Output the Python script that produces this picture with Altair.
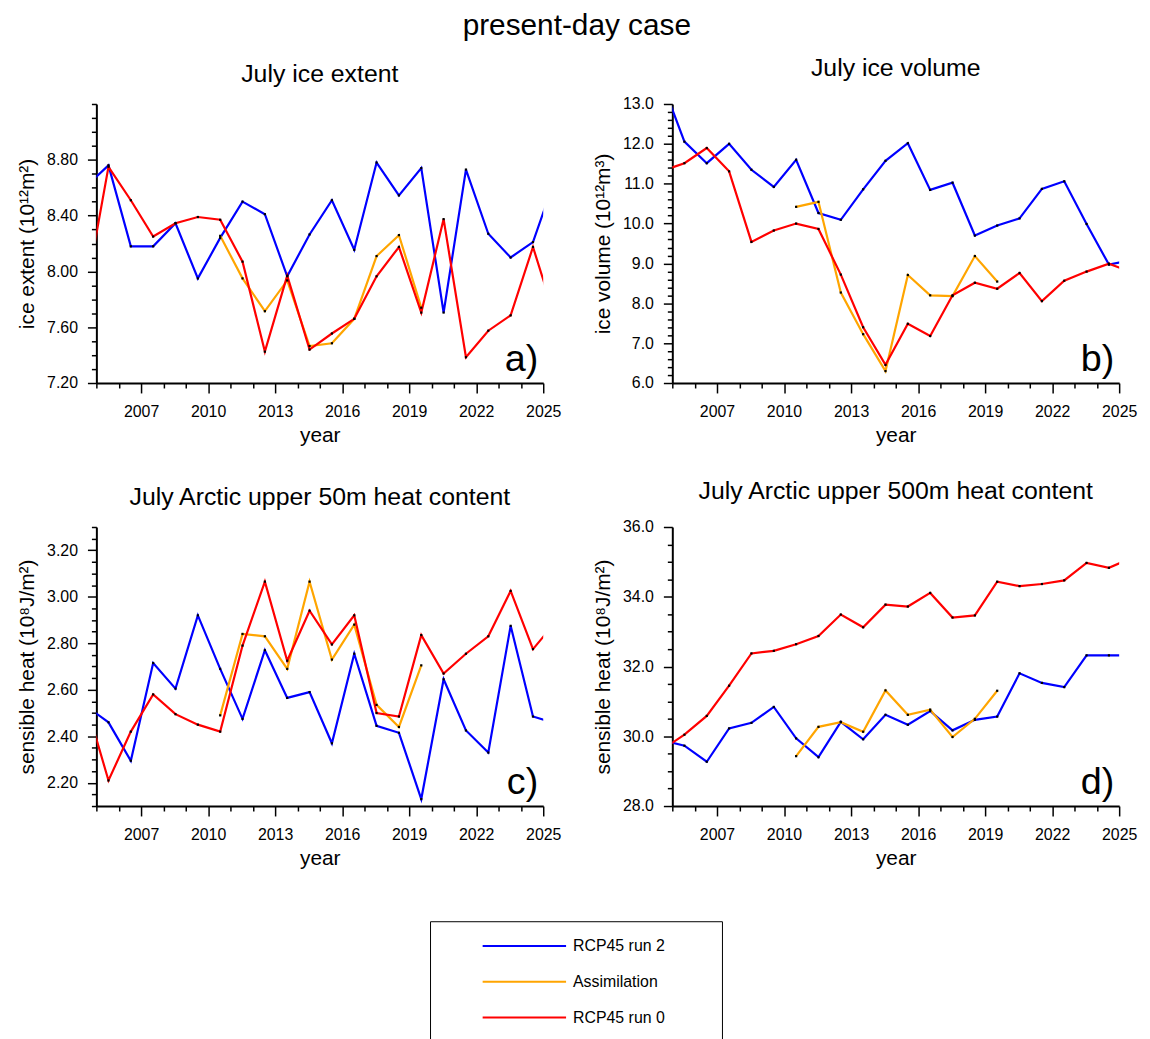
import altair as alt
import pandas as pd

# ---------------- data ----------------
years = list(range(2004, 2026))          # July values, plotted at mid-July
assim_years = list(range(2010, 2020))
series_names = ["RCP45 run 2", "Assimilation", "RCP45 run 0"]
series_colors = ["#0000ff", "#ffa500", "#ff0000"]

ext_run2 = [8.61, 8.76, 8.18, 8.18, 8.345, 7.95, 8.24, 8.50, 8.41, 7.965, 8.265,
            8.51, 8.155, 8.78, 8.545, 8.74, 7.705, 8.73, 8.27, 8.10, 8.21, 8.67]
ext_run0 = [7.86, 8.75, 8.51, 8.25, 8.345, 8.39, 8.37, 8.07, 7.425, 7.97, 7.44,
            7.555, 7.66, 7.965, 8.175, 7.705, 8.375, 7.385, 7.575, 7.685, 8.175, 7.665]
ext_assim = [8.255, 7.95, 7.715, 7.935, 7.465, 7.485, 7.66, 8.11, 8.26, 7.74]

vol_run2 = [13.55, 12.055, 11.515, 12.0, 11.35, 10.92, 11.6, 10.265, 10.095, 10.86, 11.575,
            12.015, 10.845, 11.025, 9.70, 9.95, 10.13, 10.87, 11.06, 9.99, 8.97, 9.08]
vol_run0 = [11.32, 11.515, 11.895, 11.31, 9.54, 9.825, 10.0, 9.865, 8.72, 7.40, 6.455,
            7.485, 7.18, 8.2, 8.515, 8.365, 8.76, 8.055, 8.565, 8.795, 8.995, 8.78]
vol_assim = [10.42, 10.545, 8.27, 7.225, 6.30, 8.71, 8.2, 8.18, 9.185, 8.545]

h50_run2 = [2.53, 2.46, 2.295, 2.715, 2.605, 2.92, 2.69, 2.475, 2.77, 2.565, 2.59,
            2.37, 2.755, 2.445, 2.415, 2.13, 2.645, 2.425, 2.33, 2.875, 2.485, 2.455]
h50_run0 = [2.54, 2.21, 2.42, 2.58, 2.495, 2.45, 2.42, 2.79, 3.065, 2.725, 2.94,
            2.795, 2.92, 2.50, 2.485, 2.835, 2.67, 2.755, 2.83, 3.025, 2.775, 2.89]
h50_assim = [2.49, 2.84, 2.83, 2.69, 3.065, 2.73, 2.88, 2.535, 2.44, 2.705]

h500_run2 = [29.89, 29.73, 29.27, 30.225, 30.385, 30.84, 29.94, 29.40, 30.415, 29.915, 30.615,
             30.33, 30.725, 30.17, 30.47, 30.565, 31.805, 31.53, 31.41, 32.32, 32.32, 32.32]
h500_run0 = [29.62, 30.045, 30.585, 31.45, 32.375, 32.45, 32.64, 32.875, 33.49, 33.125, 33.775,
             33.72, 34.11, 33.405, 33.465, 34.43, 34.305, 34.365, 34.47, 34.97, 34.83, 35.11]
h500_assim = [29.43, 30.27, 30.405, 30.13, 31.315, 30.615, 30.765, 29.98, 30.5, 31.305]

x_tick_years = list(range(2005, 2026))
x_label_years = [2007, 2010, 2013, 2016, 2019, 2022, 2025]

FONT = "Liberation Sans"
W, H = 450, 281
PAD_RIGHT = "\u00a0" * 9 + "\u200b"   # keeps legend box wide on the right


def panel(letter, title, ytitle, run2, run0, assim, ydom, ystep, ylabels, yfmt, toff):
    rows = []
    for name, yrs, vals in [(series_names[0], years, run2),
                            (series_names[1], assim_years, assim),
                            (series_names[2], years, run0)]:
        for yr, v in zip(yrs, vals):
            rows.append({"year": yr, "series": name, "value": v})
    df = pd.DataFrame(rows)

    n = int(round((ydom[1] - ydom[0]) / ystep))
    yticks = [round(ydom[0] + i * ystep, 4) for i in range(n + 1)]
    ymaj = [int(round(v * 100)) for v in ylabels]
    ytest = f"indexof({ymaj}, round(datum.value*100)) >= 0"
    xtest = f"indexof({x_label_years}, datum.value) >= 0"

    xenc = alt.X("xpos:Q",
                 scale=alt.Scale(domain=[2005, 2025], nice=False, zero=False),
                 axis=alt.Axis(values=x_tick_years, format="d",
                               labelExpr=f"{xtest} ? datum.label : ''",
                               tickSize={"condition": {"test": xtest, "value": 10}, "value": 5},
                               labelPadding=11, titlePadding=5, title="year",
                               labelOverlap=False, labelFlush=False))
    yenc = alt.Y("value:Q",
                 scale=alt.Scale(domain=ydom, nice=False, zero=False),
                 axis=alt.Axis(values=yticks, format=yfmt,
                               labelExpr=f"{ytest} ? datum.label : ''",
                               tickSize={"condition": {"test": ytest, "value": 9}, "value": 5},
                               labelPadding=10, titlePadding=9, title=ytitle,
                               labelOverlap=False, labelFlush=False))

    base = alt.Chart(df).transform_calculate(xpos="datum.year + 6.5/12")

    lines = base.mark_line(clip=True, strokeWidth=2.2).encode(
        x=xenc, y=yenc,
        color=alt.Color("series:N",
                        scale=alt.Scale(domain=series_names, range=series_colors),
                        legend=alt.Legend(
                            orient="none", legendX=336, legendY=823,
                            direction="vertical",
                            title="x", titleOrient="left", titleColor="white",
                            titleFontSize=12, titlePadding=28,
                            symbolType="stroke", symbolSize=7056, symbolStrokeWidth=2,
                            labelFont=FONT, labelFontSize=16, labelOffset=6,
                            labelExpr=f"datum.label + '{PAD_RIGHT}'",
                            labelLimit=400,
                            strokeColor="black", fillColor="white",
                            padding=17, rowPadding=20, clipHeight=16)),
    )
    dots = base.mark_square(size=5, color="black", opacity=1).encode(
        x=xenc, y=yenc
    ).transform_filter("datum.year >= 2005 && datum.year <= 2024")

    tag = alt.Chart(pd.DataFrame({"t": [letter]})).mark_text(
        fontSize=38, font=FONT, align="right", baseline="alphabetic", color="black"
    ).encode(text="t:N", x=alt.value(W - 5), y=alt.value(H - 12))

    return alt.layer(lines, dots, tag).properties(
        width=W, height=H,
        title=alt.TitleParams(title, font=FONT, fontSize=25, fontWeight="normal",
                              anchor="middle", baseline="alphabetic", offset=toff,
                              color="black"))


pa = panel("a)", "July ice extent", "ice extent (10\u00b9\u00b2m\u00b2)",
           ext_run2, ext_run0, ext_assim, [7.2, 9.2], 0.1,
           [7.2, 7.6, 8.0, 8.4, 8.8], ".2f", -11)
pb = panel("b)", "July ice volume", "ice volume (10\u00b9\u00b2m\u00b3)",
           vol_run2, vol_run0, vol_assim, [6.0, 13.0], 0.2,
           [6, 7, 8, 9, 10, 11, 12, 13], ".1f", -5)
pc = panel("c)", "July Arctic upper 50m heat content", "sensible heat (10\u2078J/m\u00b2)",
           h50_run2, h50_run0, h50_assim, [2.1, 3.3], 0.05,
           [2.2, 2.4, 2.6, 2.8, 3.0, 3.2], ".2f", -11)
pd_ = panel("d)", "July Arctic upper 500m heat content", "sensible heat (10\u2078J/m\u00b2)",
            h500_run2, h500_run0, h500_assim, [28.0, 36.0], 0.5,
            [28, 30, 32, 34, 36], ".1f", -5)

chart = alt.concat(pa, pb, pc, pd_, columns=2,
                   spacing={"row": 145, "column": 130}, bounds="flush").properties(
    title=alt.TitleParams("present-day case", font=FONT, fontSize=30, fontWeight="normal",
                          anchor="middle", frame="bounds", baseline="alphabetic",
                          offset=-9, color="black"),
    padding={"left": 8, "top": 0, "right": 5, "bottom": 0},
).configure(font=FONT).configure_view(stroke=None).configure_axis(
    grid=False, domainColor="black", domainWidth=2, tickColor="black", tickWidth=1.5,
    labelFont=FONT, labelFontSize=16, labelColor="black",
    titleFont=FONT, titleFontSize=21, titleFontWeight="normal", titleColor="black",
)

chart.save("out.html", embed_options={"renderer": "svg", "actions": False})
